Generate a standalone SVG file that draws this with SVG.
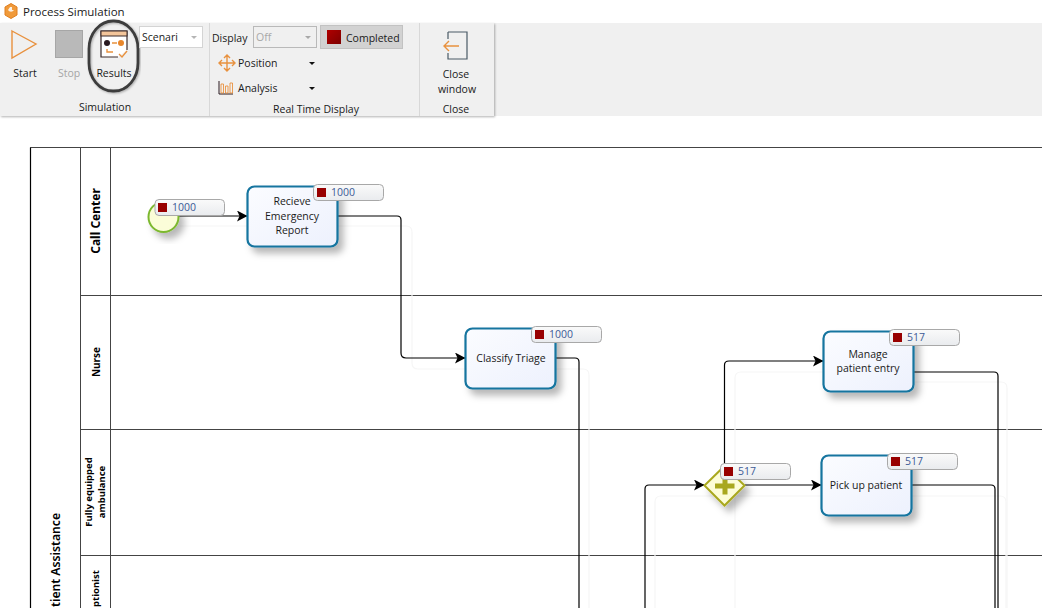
<svg xmlns="http://www.w3.org/2000/svg" width="1042" height="608" viewBox="0 0 1042 608">
<style>
text{font-family:"Open Sans","Noto Sans","Liberation Sans",sans-serif;font-size:10.5px;fill:#1a1a1a}
.c{text-anchor:middle}
.lane{font-family:"Noto Sans","Liberation Sans",sans-serif;font-weight:700;fill:#000;text-anchor:middle}
.task{fill:url(#tg);stroke:#14749f;stroke-width:2.2;filter:url(#sh)}
.badge{fill:url(#bg);stroke:#a8a8a8;stroke-width:1}
.sq{fill:#980000}
.num{fill:#3d5a96;font-size:10.5px}
.ln{fill:none;stroke:#000;stroke-width:1.2}
.ghost{fill:none;stroke:#f6f6f6;stroke-width:1.2}
.sw{fill:none;stroke:#444;stroke-width:1}
.or{fill:none;stroke:#e8913e;stroke-width:1.4}
</style>
<defs>
<linearGradient id="tg" x1="0" y1="0" x2="1" y2="1"><stop offset="0" stop-color="#fbfcff"/><stop offset="1" stop-color="#edf1fd"/></linearGradient>
<linearGradient id="bg" x1="0" y1="0" x2="0" y2="1"><stop offset="0" stop-color="#fafafa"/><stop offset="1" stop-color="#e9ebee"/></linearGradient>
<linearGradient id="sg" x1="0" y1="0" x2="1" y2="1"><stop offset="0" stop-color="#b00000"/><stop offset="1" stop-color="#7d0000"/></linearGradient>
<filter id="sh" x="-30%" y="-30%" width="170%" height="170%"><feDropShadow dx="5" dy="6" stdDeviation="3.5" flood-color="#000" flood-opacity=".28"/></filter>
<filter id="rs" x="-5%" y="-5%" width="110%" height="115%"><feDropShadow dx="1" dy="1" stdDeviation="1" flood-color="#000" flood-opacity=".3"/></filter>
<marker id="ar" markerWidth="12" markerHeight="12" refX="10" refY="5.5" orient="auto" markerUnits="userSpaceOnUse"><path d="M0 0L10.500 5.500L0 11L2.500 5.500Z" fill="#000"/></marker>
</defs>

<rect width="1042" height="608" fill="#fff"/>

<g id="ribbon">
<rect x="494" y="23" width="548" height="93" fill="#f0f0f0"/>
<rect x="0" y="23" width="494" height="93" fill="#f0f0f0" filter="url(#rs)"/>
<path d="M209.500 23V116M419.500 23V116" stroke="#d8d8d8" fill="none"/>
<path d="M5 7l6-3.500 6 3.500v8l-6 3.500-6-3.500z" fill="#f09a3a" stroke="#e07f1f"/><path d="M8 10a3.500 3.500 0 0 0 6 0l-2 0v-3h-2z" fill="#fff" opacity=".85"/>
<text x="23" y="16" style="font-size:11.500px">Process Simulation</text>
<path d="M12 31L36 44L12 58Z" class="or"/>
<text x="25" y="77" class="c">Start</text>
<rect x="55.500" y="30.500" width="27" height="27" fill="#b9b9b9" stroke="#a6a6a6"/>
<text x="69" y="77" class="c" style="fill:#a5a5a5">Stop</text>
<g id="results-icon">
<path d="M118 57H101V31H127V50" fill="#fff" stroke="#3a2a2a" stroke-width="1.200"/>
<rect x="101" y="31" width="26" height="5" fill="#f3c59a" stroke="#3a2a2a"/>
<circle cx="107" cy="43" r="3" fill="#2a1a20"/><circle cx="121" cy="43" r="3" fill="#e8862a"/>
<path d="M112 43h5M107 49v3h6M119 54l3 3 5-6" class="or"/>
</g>
<text x="114" y="77" class="c">Results</text>
<rect x="89" y="21" width="49" height="70" rx="24" ry="28" fill="none" stroke="#3c3c3c" stroke-width="2.800" filter="url(#rs)"/>
<rect x="139.500" y="26.500" width="63" height="21" fill="#fff" stroke="#d4d4d4"/>
<text x="142" y="41">Scenari</text>
<path d="M191 36h6l-3 3z" fill="#b5b5b5"/>
<text x="105" y="111" class="c">Simulation</text>
<text x="212" y="42">Display</text>
<rect x="253.500" y="26.500" width="63" height="21" fill="#f0f0f0" stroke="#b9b9b9"/>
<text x="256" y="41" style="fill:#a8a8a8">Off</text>
<path d="M305 36h6l-3 3z" fill="#a8a8a8"/>
<rect x="320.500" y="25.500" width="82" height="23" fill="#d2d2d2" stroke="#c2c2c2"/>
<rect x="327" y="30" width="14" height="14" fill="url(#sg)"/>
<text x="346" y="42">Completed</text>
<path d="M220 63h14M227 56v14M222 60l-3 3 3 3M232 60l3 3-3 3M224 58l3-3 3 3M224 68l3 3 3-3" class="or" stroke-width="1"/>
<text x="238" y="67">Position</text>
<path d="M309 62h6l-3 3z" fill="#111"/>
<path d="M219 81v13h14" fill="none" stroke="#2a1a20"/><path d="M221 84h2.500v9H221zM225.500 86h2.500v7h-2.500zM230 83h2.500v10H230z" fill="none" stroke="#e8862a" stroke-width=".8"/>
<text x="238" y="92">Analysis</text>
<path d="M309 87h6l-3 3z" fill="#111"/>
<text x="316" y="113" class="c">Real Time Display</text>
<path d="M448 32H467V59H448V53M448 39V32" fill="none" stroke="#4a5a66" stroke-width="1.200"/>
<path d="M459 46H444M449 41l-5 5 5 5" class="or"/>
<text x="456" y="78" class="c">Close</text>
<text x="457" y="93" class="c">window</text>
<text x="456" y="113" class="c">Close</text>
</g>

<g id="pool">
<path class="sw" d="M1042 147.500H30.500V608M80.500 147.500V608M110.500 147.500V608M80.500 295.500H1042M80.500 429.500H1042M80.500 555.500H1042" stroke="#3a3a3a"/>
<path d="M30.500 147.500V608" stroke="#000" stroke-width="1.200"/>
<text class="lane" transform="translate(60 607) rotate(-90)" style="font-size:12.500px;text-anchor:start;font-weight:600" textLength="94" lengthAdjust="spacingAndGlyphs">tient Assistance</text>
<text class="lane" transform="translate(100 221) rotate(-90)" style="font-size:12px">Call Center</text>
<text class="lane" transform="translate(100 362) rotate(-90)" style="font-size:10px">Nurse</text>
<text class="lane" transform="translate(92 492) rotate(-90)" style="font-size:9.500px">Fully equipped</text>
<text class="lane" transform="translate(105 492) rotate(-90)" style="font-size:9.500px">ambulance</text>
<text class="lane" transform="translate(99 607) rotate(-90)" style="font-size:9.500px;text-anchor:start">ptionist</text>
</g>

<g id="connectors">
<path class="ghost" d="M180 226H406Q412 226 412 232V363Q412 369 418 369H583Q589 369 589 375V608"/>
<path class="ghost" d="M735 608V378Q735 372 741 372H825"/>
<path class="ghost" d="M915 382H1001Q1007 382 1007 388V608"/>
<path class="ghost" d="M655 608V502Q655 496 661 496H1000Q1006 496 1006 502V608"/>
<path class="ln" marker-end="url(#ar)" d="M176 216H247"/>
<path class="ln" marker-end="url(#ar)" d="M338 216H397Q401 216 401 220V353Q401 358 406 358H465"/>
<path class="ln" d="M555 358H575Q579 358 579 362V608"/>
<path class="ln" marker-end="url(#ar)" d="M645 608V489Q645 485 649 485H704"/>
<path class="ln" marker-end="url(#ar)" d="M724.500 466V365Q724.500 361 729 361H823"/>
<path class="ln" marker-end="url(#ar)" d="M745 485H821"/>
<path class="ln" d="M914 372H994Q998 372 998 376V608"/>
<path class="ln" d="M912 485H991Q995 485 995 489V608"/>
</g>

<g id="start">
<circle cx="163.500" cy="217" r="15" fill="#fbfdd8" stroke="#7cb82f" stroke-width="2" filter="url(#sh)"/>
<rect x="155" y="199.500" width="69.500" height="16" rx="4" class="badge"/><rect x="158" y="203" width="9" height="9" class="sq"/><text x="172" y="211" class="num">1000</text>
</g>
<g id="task-receive">
<rect x="247.500" y="186.500" width="90" height="60" rx="7" class="task"/>
<text x="292" y="205" class="c">Recieve</text><text x="292" y="220" class="c">Emergency</text><text x="292" y="234" class="c">Report</text>
<rect x="313.500" y="184.500" width="70" height="16" rx="4" class="badge"/><rect x="317" y="188" width="9" height="9" class="sq"/><text x="331" y="196" class="num">1000</text>
</g>
<g id="task-classify">
<rect x="465.500" y="328.500" width="90" height="60" rx="7" class="task"/>
<text x="511" y="362" class="c">Classify Triage</text>
<rect x="531.500" y="326.500" width="70" height="16" rx="4" class="badge"/><rect x="535" y="330" width="9" height="9" class="sq"/><text x="549" y="338" class="num">1000</text>
</g>
<g id="task-manage">
<rect x="823.500" y="331.500" width="90" height="60" rx="7" class="task"/>
<text x="868" y="358" class="c">Manage</text><text x="868" y="372" class="c">patient entry</text>
<rect x="889.500" y="329.500" width="70" height="16" rx="4" class="badge"/><rect x="893" y="333" width="9" height="9" class="sq"/><text x="907" y="341" class="num">517</text>
</g>
<g id="task-pickup">
<rect x="821.500" y="455.500" width="90" height="60" rx="7" class="task"/>
<text x="866" y="489" class="c">Pick up patient</text>
<rect x="887.500" y="453.500" width="70" height="16" rx="4" class="badge"/><rect x="891" y="457" width="9" height="9" class="sq"/><text x="905" y="465" class="num">517</text>
</g>
<g id="gateway">
<path d="M724.500 466L744.500 485.500L724.500 505.500L704.500 485.500Z" fill="#fdfdd8" stroke="#a9a81f" stroke-width="2" filter="url(#sh)"/>
<path d="M722.500 478h5v5.500h7v5h-7v6h-5v-6h-7.500v-5h7.500z" fill="#a9a81f"/>
<rect x="720.500" y="463.500" width="70" height="16" rx="4" class="badge"/><rect x="724" y="467" width="9" height="9" class="sq"/><text x="738" y="475" class="num">517</text>
</g>
</svg>
